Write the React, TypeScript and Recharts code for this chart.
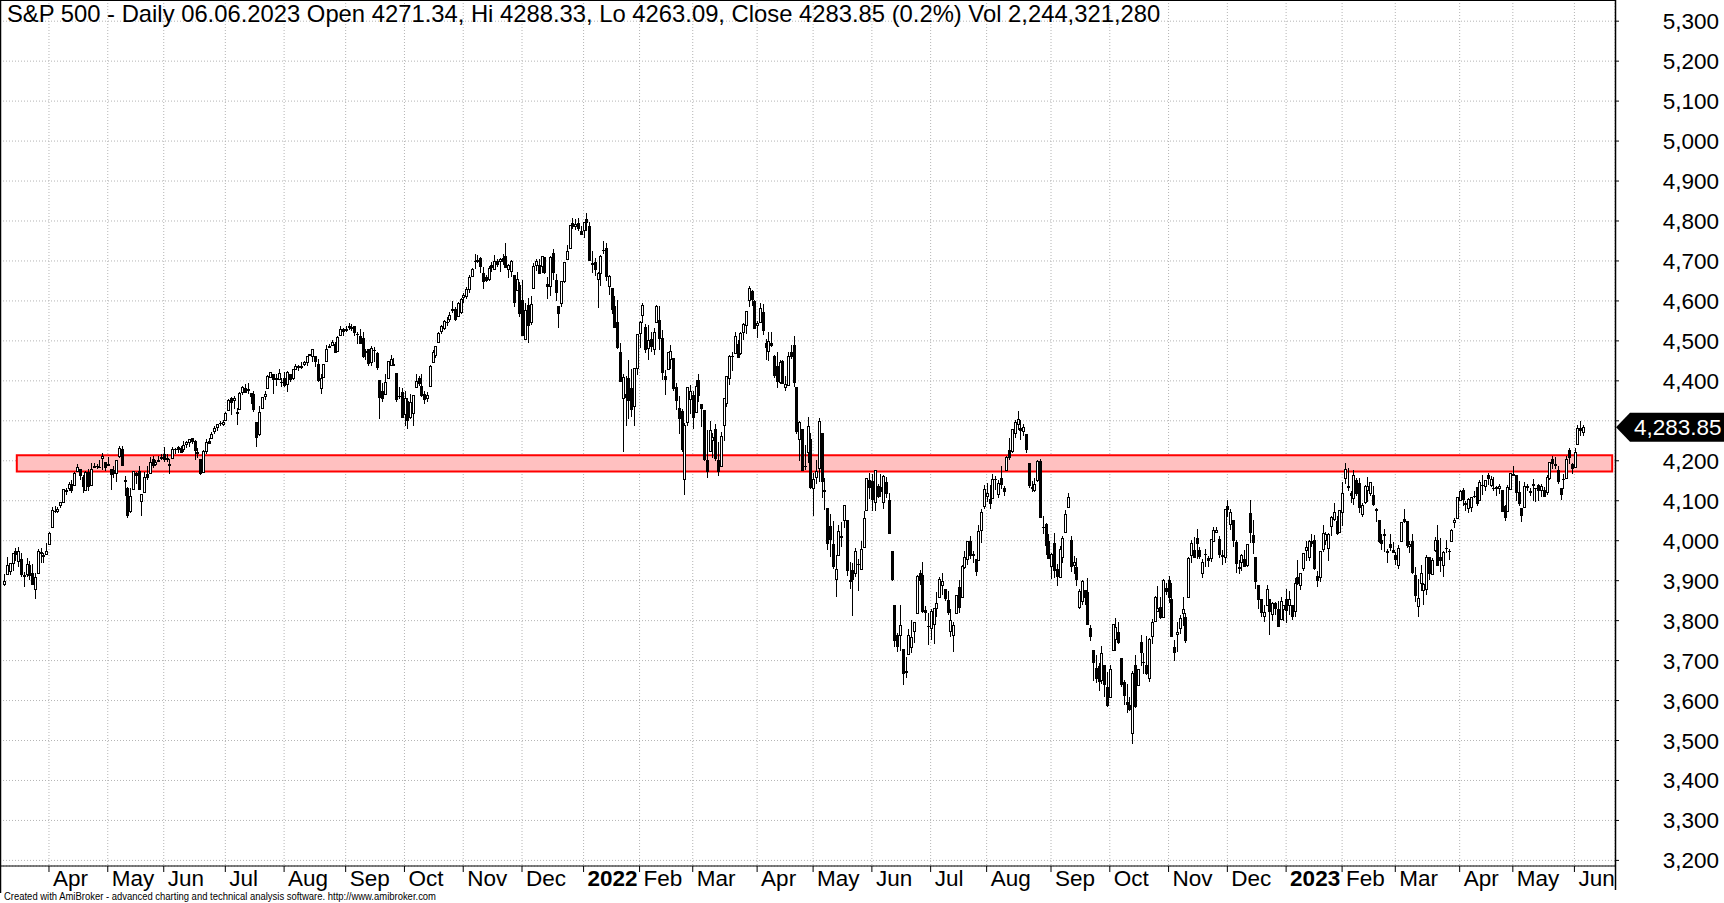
import { ComposedChart, Bar, XAxis, YAxis, CartesianGrid, ReferenceArea, ReferenceLine } from 'recharts';

// S&P 500 daily candles, 10 Mar 2021 .. 06 Jun 2023 (one line per month)
const monthLabels = ['Mar', 'Apr', 'May', 'Jun', 'Jul', 'Aug', 'Sep', 'Oct', 'Nov', 'Dec', '2022', 'Feb', 'Mar', 'Apr', 'May', 'Jun', 'Jul', 'Aug', 'Sep', 'Oct', 'Nov', 'Dec', '2023', 'Feb', 'Mar', 'Apr', 'May', 'Jun'];
const monthDays = [16, 21, 20, 22, 21, 22, 21, 21, 21, 22, 20, 19, 23, 20, 21, 21, 20, 23, 21, 21, 21, 21, 20, 19, 23, 19, 22, 4];

const opens = [
  3891, 3916, 3925, 3943, 3974, 3949, 3953, 3913, 3917, 3938, 3920, 3880, 3918, 3970, 3963, 3967,
  3992, 4034, 4075, 4074, 4089, 4096, 4124, 4131, 4141, 4140, 4175, 4179, 4160, 4128, 4171, 4139, 4185, 4188, 4185, 4206, 4198,
  4192, 4179, 4178, 4169, 4211, 4229, 4150, 4131, 4075, 4130, 4169, 4175, 4099, 4122, 4168, 4170, 4205, 4191, 4201, 4210,
  4216, 4207, 4191, 4207, 4229, 4234, 4233, 4229, 4242, 4248, 4256, 4249, 4220, 4204, 4173, 4224, 4249, 4256, 4274, 4285, 4294, 4291,
  4301, 4326, 4357, 4351, 4321, 4329, 4373, 4381, 4380, 4370, 4368, 4297, 4266, 4331, 4362, 4381, 4410, 4417, 4407, 4404, 4396,
  4407, 4392, 4416, 4406, 4429, 4438, 4436, 4443, 4447, 4464, 4462, 4462, 4441, 4383, 4410, 4450, 4485, 4490, 4493, 4475, 4514, 4529,
  4529, 4535, 4532, 4536, 4518, 4513, 4506, 4475, 4479, 4447, 4477, 4470, 4402, 4375, 4367, 4406, 4439, 4443, 4419, 4362, 4371,
  4318, 4349, 4310, 4320, 4384, 4407, 4386, 4368, 4358, 4387, 4448, 4464, 4498, 4524, 4532, 4547, 4554, 4579, 4580, 4562, 4573,
  4610, 4613, 4631, 4663, 4700, 4701, 4707, 4670, 4659, 4656, 4689, 4680, 4701, 4700, 4708, 4712, 4679, 4675, 4665, 4628, 4640,
  4602, 4504, 4589, 4548, 4632, 4690, 4691, 4687, 4711, 4642, 4637, 4719, 4652, 4588, 4595, 4650, 4704, 4733, 4795, 4788, 4795, 4776,
  4778, 4804, 4788, 4693, 4698, 4655, 4669, 4728, 4733, 4637, 4632, 4588, 4548, 4471, 4357, 4366, 4408, 4381, 4337, 4432,
  4519, 4566, 4535, 4482, 4505, 4480, 4547, 4553, 4506, 4412, 4430, 4455, 4456, 4385, 4332, 4325, 4155, 4298, 4354,
  4364, 4323, 4401, 4343, 4327, 4202, 4224, 4253, 4280, 4202, 4188, 4289, 4345, 4407, 4462, 4469, 4493, 4469, 4523, 4541, 4603, 4625, 4600,
  4541, 4548, 4572, 4494, 4475, 4494, 4462, 4437, 4396, 4449, 4385, 4390, 4473, 4490, 4385, 4255, 4279, 4187, 4223, 4254,
  4131, 4159, 4182, 4270, 4128, 4082, 4036, 3991, 3903, 3963, 4013, 4052, 4051, 3899, 3927, 3920, 3942, 3929, 3984, 4078, 4151,
  4150, 4096, 4137, 4134, 4097, 4148, 4102, 3974, 3838, 3764, 3765, 3728, 3675, 3716, 3733, 3775, 3820, 3920, 3913, 3826, 3786,
  3782, 3792, 3831, 3859, 3888, 3880, 3851, 3773, 3764, 3818, 3883, 3860, 3935, 3955, 3998, 3965, 3954, 3951, 4027, 4088,
  4112, 4104, 4107, 4154, 4116, 4156, 4133, 4176, 4227, 4225, 4270, 4291, 4281, 4274, 4267, 4195, 4134, 4127, 4153, 4199, 4035, 4041, 4000,
  3937, 3995, 3930, 3909, 3960, 4022, 4084, 4001, 3940, 3933, 3833, 3849, 3876, 3871, 3782, 3727, 3682, 3687, 3652, 3688, 3633,
  3610, 3726, 3753, 3771, 3706, 3647, 3596, 3590, 3520, 3690, 3638, 3746, 3696, 3689, 3657, 3762, 3799, 3825, 3834, 3809, 3881,
  3901, 3853, 3733, 3767, 3781, 3818, 3810, 3859, 3963, 3977, 4007, 3976, 3920, 3967, 3957, 3956, 4000, 4023, 4005, 3965, 3958,
  4087, 4041, 4052, 3996, 3934, 3947, 3955, 3939, 4069, 4015, 3958, 3890, 3853, 3811, 3840, 3853, 3816, 3843, 3829, 3805, 3830,
  3853, 3840, 3840, 3823, 3910, 3888, 3932, 3977, 3960, 3999, 4002, 3912, 3910, 3979, 4001, 3982, 4036, 4054, 4050, 4021,
  4071, 4158, 4136, 4119, 4106, 4153, 4144, 4068, 4097, 4127, 4120, 4114, 4077, 4052, 4001, 4018, 3973, 3992, 3977,
  3964, 3938, 3999, 4055, 4049, 3987, 3998, 3913, 3836, 3894, 3876, 3878, 3958, 3917, 3976, 4003, 3960, 3939, 3982, 3975, 3999, 4046, 4057,
  4102, 4128, 4094, 4082, 4085, 4111, 4134, 4101, 4140, 4137, 4165, 4140, 4131, 4132, 4133, 4127, 4087, 4075, 4129,
  4166, 4164, 4123, 4083, 4084, 4137, 4124, 4143, 4132, 4139, 4127, 4127, 4122, 4157, 4204, 4191, 4176, 4132, 4155, 4156, 4226, 4191,
  4184, 4242, 4282, 4271.34,
];

const highs = [
  3917, 3960, 3944, 3970, 3982, 3984, 3969, 3922, 3956, 3949, 3942, 3919, 3979, 3981, 3969, 3994,
  4021, 4084, 4087, 4084, 4098, 4129, 4131, 4148, 4152, 4173, 4192, 4180, 4164, 4175, 4180, 4194, 4195, 4193, 4201, 4219, 4198,
  4210, 4179, 4187, 4202, 4238, 4236, 4163, 4135, 4131, 4175, 4171, 4187, 4117, 4172, 4188, 4209, 4213, 4202, 4213, 4218,
  4234, 4217, 4204, 4234, 4232, 4237, 4237, 4249, 4249, 4255, 4258, 4252, 4233, 4204, 4226, 4255, 4256, 4272, 4286, 4292, 4300, 4302,
  4321, 4355, 4359, 4361, 4331, 4372, 4386, 4393, 4394, 4370, 4375, 4297, 4336, 4360, 4374, 4415, 4423, 4417, 4416, 4430, 4408,
  4422, 4424, 4417, 4430, 4441, 4439, 4446, 4449, 4461, 4468, 4480, 4462, 4454, 4418, 4442, 4489, 4493, 4501, 4496, 4513, 4538, 4532,
  4537, 4545, 4542, 4536, 4521, 4530, 4521, 4480, 4479, 4486, 4485, 4471, 4402, 4394, 4417, 4450, 4464, 4458, 4419, 4385, 4382,
  4375, 4356, 4366, 4365, 4416, 4412, 4416, 4375, 4373, 4439, 4476, 4487, 4521, 4540, 4552, 4560, 4572, 4599, 4585, 4597, 4608,
  4621, 4636, 4664, 4683, 4718, 4714, 4709, 4685, 4664, 4688, 4698, 4714, 4706, 4708, 4718, 4744, 4692, 4702, 4665, 4672, 4647,
  4652, 4595, 4608, 4612, 4694, 4706, 4705, 4713, 4711, 4660, 4712, 4731, 4667, 4588, 4651, 4698, 4741, 4791, 4808, 4805, 4808, 4787,
  4797, 4819, 4798, 4726, 4708, 4673, 4715, 4749, 4745, 4666, 4632, 4612, 4603, 4495, 4418, 4411, 4453, 4429, 4433, 4516,
  4550, 4595, 4542, 4539, 4522, 4531, 4590, 4588, 4527, 4427, 4473, 4490, 4456, 4395, 4363, 4329, 4295, 4385, 4389,
  4375, 4401, 4417, 4343, 4327, 4277, 4299, 4269, 4292, 4247, 4272, 4357, 4413, 4465, 4471, 4523, 4501, 4521, 4546, 4576, 4637, 4627, 4603,
  4549, 4594, 4593, 4504, 4521, 4521, 4464, 4472, 4453, 4452, 4411, 4471, 4489, 4513, 4385, 4300, 4279, 4240, 4309, 4270,
  4170, 4201, 4308, 4270, 4158, 4082, 4068, 4050, 3964, 4039, 4047, 4089, 4051, 3946, 3944, 3981, 3955, 3999, 4075, 4158, 4169,
  4167, 4177, 4143, 4168, 4164, 4160, 4120, 3974, 3838, 3768, 3838, 3728, 3708, 3779, 3802, 3796, 3913, 3927, 3946, 3836, 3818,
  3829, 3832, 3871, 3910, 3918, 3880, 3874, 3829, 3797, 3863, 3902, 3940, 3975, 3999, 4012, 3975, 3954, 4040, 4079, 4140,
  4144, 4140, 4167, 4162, 4152, 4186, 4138, 4211, 4257, 4280, 4302, 4325, 4302, 4293, 4267, 4195, 4149, 4156, 4201, 4204, 4063, 4044, 4016,
  3970, 4019, 3942, 3987, 4011, 4076, 4119, 4012, 3962, 3956, 3879, 3901, 3876, 3907, 3790, 3727, 3715, 3694, 3736, 3688, 3672,
  3688, 3791, 3807, 3797, 3706, 3652, 3641, 3608, 3673, 3713, 3679, 3763, 3719, 3762, 3757, 3805, 3862, 3887, 3860, 3905, 3893,
  3912, 3894, 3751, 3796, 3814, 3859, 3818, 3958, 4001, 4009, 4029, 3983, 3954, 3979, 3962, 4004, 4034, 4035, 4013, 3977, 4080,
  4101, 4080, 4052, 4002, 3951, 3966, 3977, 3991, 4101, 4053, 3958, 3890, 3854, 3839, 3889, 3853, 3846, 3846, 3849, 3858, 3840,
  3879, 3874, 3840, 3907, 3951, 3920, 3970, 3998, 4003, 4016, 4015, 3923, 3973, 4040, 4023, 4020, 4062, 4095, 4063, 4077,
  4148, 4195, 4183, 4124, 4176, 4156, 4157, 4094, 4139, 4159, 4148, 4137, 4082, 4052, 4017, 4029, 3978, 4018, 3997,
  3972, 3990, 4048, 4079, 4050, 4000, 4018, 3934, 3905, 3938, 3894, 3965, 3959, 3956, 4010, 4039, 4007, 3973, 4003, 3979, 4030, 4058, 4110,
  4127, 4133, 4100, 4108, 4109, 4124, 4134, 4151, 4164, 4152, 4170, 4162, 4160, 4138, 4141, 4127, 4089, 4139, 4170,
  4186, 4165, 4149, 4083, 4147, 4143, 4131, 4155, 4133, 4143, 4142, 4135, 4165, 4198, 4213, 4210, 4186, 4133, 4166, 4212, 4231, 4194,
  4232, 4290, 4300, 4288.33,
];

const lows = [
  3886, 3916, 3915, 3924, 3950, 3935, 3910, 3885, 3910, 3901, 3889, 3853, 3917, 3944, 3943, 3966,
  3992, 4034, 4069, 4069, 4082, 4095, 4114, 4124, 4120, 4140, 4171, 4151, 4119, 4126, 4124, 4139, 4182, 4180, 4181, 4177, 4175,
  4189, 4128, 4158, 4148, 4207, 4188, 4111, 4057, 4070, 4130, 4143, 4128, 4062, 4122, 4152, 4170, 4182, 4188, 4197, 4203,
  4197, 4198, 4167, 4207, 4217, 4219, 4219, 4221, 4233, 4235, 4241, 4203, 4207, 4165, 4173, 4217, 4241, 4256, 4266, 4275, 4286, 4287,
  4301, 4326, 4315, 4330, 4289, 4329, 4365, 4369, 4366, 4343, 4323, 4234, 4263, 4329, 4351, 4381, 4406, 4367, 4387, 4403, 4385,
  4385, 4373, 4398, 4402, 4427, 4424, 4430, 4436, 4436, 4461, 4448, 4435, 4397, 4368, 4407, 4450, 4483, 4486, 4469, 4474, 4514, 4511,
  4522, 4527, 4525, 4513, 4493, 4493, 4458, 4453, 4436, 4438, 4447, 4427, 4305, 4347, 4367, 4406, 4437, 4437, 4346, 4355, 4307,
  4288, 4279, 4305, 4288, 4381, 4386, 4360, 4343, 4348, 4387, 4448, 4458, 4496, 4517, 4526, 4538, 4547, 4569, 4551, 4562, 4567,
  4595, 4604, 4620, 4660, 4681, 4694, 4670, 4630, 4648, 4651, 4672, 4679, 4686, 4672, 4690, 4682, 4658, 4660, 4585, 4626, 4560,
  4511, 4504, 4495, 4540, 4632, 4675, 4668, 4671, 4667, 4606, 4612, 4652, 4600, 4531, 4584, 4645, 4703, 4733, 4781, 4778, 4775, 4765,
  4758, 4775, 4700, 4671, 4663, 4582, 4638, 4718, 4651, 4614, 4568, 4531, 4480, 4396, 4223, 4287, 4305, 4309, 4287, 4415,
  4483, 4544, 4470, 4451, 4471, 4465, 4547, 4478, 4402, 4365, 4429, 4430, 4374, 4327, 4268, 4222, 4115, 4287, 4318,
  4279, 4323, 4346, 4285, 4199, 4157, 4224, 4206, 4200, 4162, 4187, 4249, 4335, 4390, 4424, 4469, 4456, 4465, 4501, 4517, 4585, 4588, 4530,
  4507, 4545, 4514, 4452, 4450, 4484, 4408, 4381, 4393, 4392, 4374, 4390, 4455, 4385, 4268, 4200, 4175, 4177, 4194, 4129,
  4063, 4141, 4148, 4107, 4078, 3976, 3958, 3928, 3859, 3963, 3984, 4033, 3912, 3878, 3811, 3910, 3875, 3926, 3984, 4078, 4104,
  4074, 4074, 4107, 4109, 4080, 4107, 4017, 3900, 3735, 3722, 3723, 3639, 3656, 3716, 3718, 3743, 3820, 3889, 3820, 3799, 3738,
  3752, 3742, 3810, 3859, 3865, 3850, 3813, 3759, 3722, 3818, 3818, 3860, 3930, 3938, 3955, 3944, 3911, 3951, 3993, 4079,
  4097, 4080, 4107, 4128, 4108, 4129, 4112, 4175, 4201, 4219, 4256, 4277, 4253, 4263, 4219, 4131, 4123, 4121, 4147, 4057, 4018, 3965, 3954,
  3903, 3907, 3886, 3906, 3945, 4022, 4083, 3922, 3916, 3886, 3828, 3839, 3838, 3789, 3749, 3648, 3645, 3623, 3641, 3610, 3584,
  3610, 3726, 3723, 3742, 3633, 3588, 3569, 3574, 3491, 3582, 3638, 3686, 3667, 3664, 3647, 3742, 3799, 3825, 3803, 3809, 3863,
  3843, 3759, 3699, 3722, 3767, 3786, 3745, 3859, 3945, 3956, 3954, 3955, 3906, 3935, 3933, 3947, 3998, 4020, 3956, 3938, 3944,
  4060, 4026, 3984, 3919, 3917, 3923, 3934, 3935, 3994, 3966, 3880, 3828, 3809, 3796, 3840, 3765, 3798, 3813, 3783, 3805, 3800,
  3795, 3815, 3802, 3809, 3890, 3877, 3925, 3949, 3948, 3985, 3926, 3885, 3897, 3971, 3990, 3950, 4013, 4049, 4015, 4021,
  4038, 4141, 4124, 4094, 4089, 4111, 4069, 4060, 4092, 4096, 4113, 4088, 4047, 3995, 3976, 3972, 3943, 3974, 3968,
  3939, 3928, 3998, 4044, 3981, 3970, 3917, 3847, 3809, 3874, 3839, 3865, 3902, 3917, 3971, 3937, 3922, 3909, 3970, 3951, 3999, 4032, 4057,
  4099, 4087, 4074, 4069, 4073, 4108, 4086, 4100, 4114, 4124, 4140, 4135, 4124, 4113, 4118, 4072, 4049, 4072, 4128,
  4165, 4099, 4088, 4048, 4084, 4124, 4111, 4099, 4098, 4099, 4110, 4110, 4114, 4153, 4180, 4180, 4143, 4103, 4129, 4155, 4193, 4166,
  4181, 4241, 4262, 4263.09,
];

const closes = [
  3899, 3939, 3943, 3969, 3963, 3974, 3915, 3913, 3941, 3911, 3889, 3910, 3975, 3971, 3959, 3973,
  4020, 4078, 4074, 4080, 4097, 4129, 4128, 4142, 4125, 4170, 4185, 4163, 4135, 4173, 4135, 4180, 4188, 4187, 4183, 4211, 4181,
  4193, 4165, 4168, 4202, 4233, 4188, 4152, 4063, 4113, 4174, 4163, 4128, 4116, 4159, 4156, 4197, 4188, 4196, 4201, 4204,
  4202, 4208, 4193, 4230, 4227, 4227, 4220, 4239, 4247, 4255, 4247, 4224, 4222, 4166, 4225, 4246, 4242, 4266, 4281, 4291, 4292, 4298,
  4320, 4352, 4344, 4358, 4321, 4370, 4385, 4369, 4374, 4360, 4327, 4258, 4323, 4359, 4367, 4412, 4422, 4401, 4401, 4419, 4395,
  4387, 4423, 4403, 4429, 4437, 4432, 4437, 4448, 4461, 4468, 4480, 4448, 4400, 4406, 4442, 4480, 4486, 4496, 4470, 4509, 4529, 4523,
  4524, 4537, 4535, 4520, 4514, 4493, 4459, 4469, 4443, 4481, 4474, 4433, 4358, 4354, 4396, 4449, 4455, 4443, 4353, 4359, 4308,
  4357, 4300, 4346, 4364, 4400, 4391, 4361, 4351, 4364, 4438, 4471, 4486, 4520, 4536, 4550, 4545, 4566, 4575, 4552, 4596, 4605,
  4614, 4631, 4661, 4680, 4698, 4702, 4685, 4647, 4649, 4683, 4683, 4701, 4689, 4705, 4698, 4683, 4691, 4701, 4595, 4655, 4567,
  4513, 4577, 4538, 4592, 4687, 4701, 4667, 4712, 4669, 4634, 4710, 4669, 4621, 4568, 4649, 4697, 4726, 4791, 4786, 4793, 4779, 4766,
  4797, 4794, 4701, 4696, 4677, 4670, 4713, 4726, 4659, 4663, 4577, 4533, 4483, 4398, 4410, 4356, 4350, 4327, 4432, 4516,
  4547, 4589, 4477, 4501, 4484, 4522, 4587, 4504, 4419, 4402, 4471, 4475, 4380, 4349, 4305, 4226, 4289, 4385, 4374,
  4306, 4387, 4363, 4329, 4201, 4171, 4278, 4260, 4204, 4173, 4262, 4358, 4412, 4463, 4461, 4512, 4456, 4520, 4543, 4576, 4632, 4602, 4530,
  4546, 4583, 4525, 4481, 4500, 4488, 4413, 4397, 4447, 4393, 4392, 4462, 4459, 4394, 4272, 4296, 4175, 4184, 4288, 4132,
  4155, 4175, 4300, 4147, 4123, 3991, 4001, 3935, 3930, 4024, 4008, 4089, 3924, 3901, 3901, 3974, 3941, 3979, 4058, 4158, 4132,
  4101, 4177, 4109, 4121, 4161, 4116, 4018, 3901, 3750, 3735, 3790, 3667, 3675, 3765, 3760, 3796, 3912, 3900, 3822, 3819, 3785,
  3825, 3831, 3845, 3903, 3899, 3854, 3819, 3802, 3790, 3863, 3831, 3937, 3960, 3999, 3962, 3967, 3921, 4024, 4072, 4130,
  4119, 4091, 4155, 4152, 4145, 4140, 4122, 4210, 4207, 4280, 4297, 4305, 4274, 4284, 4228, 4138, 4129, 4141, 4199, 4058, 4031, 3986, 3955,
  3967, 3924, 3908, 3980, 4006, 4067, 4110, 3933, 3946, 3901, 3873, 3900, 3856, 3790, 3758, 3693, 3655, 3647, 3719, 3640, 3586,
  3678, 3791, 3783, 3745, 3640, 3612, 3589, 3577, 3670, 3583, 3678, 3720, 3695, 3666, 3753, 3797, 3859, 3831, 3807, 3901, 3872,
  3856, 3760, 3720, 3771, 3807, 3828, 3749, 3956, 3993, 3957, 3992, 3959, 3947, 3965, 3950, 4004, 4027, 4026, 3964, 3958, 4080,
  4077, 4072, 3999, 3941, 3934, 3964, 3934, 3991, 4020, 3995, 3896, 3852, 3818, 3822, 3878, 3822, 3845, 3829, 3783, 3849, 3840,
  3824, 3853, 3808, 3895, 3892, 3919, 3970, 3983, 3999, 3991, 3929, 3899, 3973, 4020, 4017, 4016, 4060, 4071, 4018, 4077,
  4119, 4180, 4136, 4111, 4164, 4118, 4082, 4090, 4137, 4136, 4148, 4090, 4079, 3997, 3991, 4012, 3970, 3982, 3970,
  3951, 3981, 4046, 4048, 3986, 3992, 3918, 3862, 3856, 3919, 3892, 3960, 3917, 3952, 4003, 3937, 3949, 3971, 3978, 3971, 4028, 4051, 4109,
  4125, 4101, 4090, 4105, 4109, 4109, 4092, 4146, 4138, 4151, 4155, 4155, 4130, 4134, 4137, 4072, 4056, 4135, 4169,
  4168, 4120, 4091, 4061, 4136, 4138, 4119, 4138, 4131, 4124, 4136, 4110, 4159, 4198, 4192, 4193, 4146, 4115, 4151, 4205, 4206, 4180,
  4221, 4282, 4274, 4283.85,
];

const yTicks = [3200, 3300, 3400, 3500, 3600, 3700, 3800, 3900, 4000, 4100, 4200, 4300, 4400, 4500, 4600, 4700, 4800, 4900, 5000, 5100, 5200, 5300];
const supportZone = [4173, 4214];
const lastDate = '06.06.2023';
const lastChange = '(0.2%)';
const lastVolume = '2,244,321,280';

const FONT = "'Liberation Sans', Arial, sans-serif";
const W = 1724;
const H = 903;
const PLOT_R = 1615;
const PLOT_B = 866;
const LEAD = 1;
const TRAIL = 11;

// table: one slot per category, blank slots for the left/right gaps
const table: any[] = [];
for (let k = 0; k < LEAD; k++) table.push({ t: table.length });
closes.forEach((c, i) => {
  table.push({ t: table.length, o: opens[i], h: highs[i], l: lows[i], c, range: [lows[i], highs[i]] });
});
for (let k = 0; k < TRAIL; k++) table.push({ t: table.length });

const tickLabels: Record<number, string> = {};
let startIdx = 0;
monthDays.forEach((n, m) => {
  if (m > 0) tickLabels[startIdx + LEAD] = monthLabels[m];
  startIdx += n;
});
const monthTicks = Object.keys(tickLabels).map(Number);

const last = closes.length - 1;
const lastClose = closes[last];
const fmt2 = (v: number) => v.toFixed(2);
const title = `S&P 500 - Daily ${lastDate} Open ${fmt2(opens[last])}, Hi ${fmt2(highs[last])}, Lo ${fmt2(lows[last])}, Close ${fmt2(lastClose)} ${lastChange} Vol ${lastVolume}`;

const Candle = (props: any) => {
  const { x, y, width, height, payload } = props;
  if (!payload || payload.o == null) return null;
  const { o, h, l, c } = payload;
  const top = Math.min(y, y + height);
  const hh = Math.abs(height);
  const px = Math.round(x + width / 2);
  const span = h - l || 1;
  const yOf = (v: number) => top + ((h - v) / span) * hh;
  const bTop = Math.round(yOf(Math.max(o, c)));
  const bBot = Math.round(yOf(Math.min(o, c)));
  const up = c >= o;
  return (
    <g shapeRendering="crispEdges">
      <line x1={px + 0.5} x2={px + 0.5} y1={Math.round(top)} y2={Math.round(top + hh)} stroke="#000" strokeWidth={1} />
      {up ? (
        <rect x={px - 0.5} y={bTop + 0.5} width={2} height={Math.max(bBot - bTop, 1)} fill="#fff" stroke="#000" strokeWidth={1} />
      ) : (
        <rect x={px - 1} y={bTop} width={3} height={Math.max(bBot - bTop, 1)} fill="#000" />
      )}
    </g>
  );
};

const PriceTick = ({ y, payload }: any) => {
  if (Math.abs(payload.value - lastClose) < 30) return null;
  return (
    <text x={1719} y={y + 8} textAnchor="end" fontSize={22.5} fontFamily={FONT} fill="#000">
      {payload.value.toLocaleString('en-US')}
    </text>
  );
};

const MonthTick = ({ x, payload }: any) => {
  const label = tickLabels[payload.value] ?? '';
  const bold = /^\d{4}$/.test(label);
  return (
    <g>
      <line x1={x} x2={x} y1={PLOT_B} y2={PLOT_B + 6} stroke="#000" strokeWidth={1} />
      <text x={x + 4} y={886} fontSize={22.5} fontWeight={bold ? 700 : 400} fontFamily={FONT} fill="#000">
        {label}
      </text>
    </g>
  );
};

// last-price marker on the right axis; y comes from the reference line
const PriceTag = (props: any) => {
  const y = props.y1 ?? props.y;
  const tip = PLOT_R + 1;
  return (
    <g>
      <polygon points={`${tip},${y} ${tip + 14},${y - 14.5} ${W},${y - 14.5} ${W},${y + 14.5} ${tip + 14},${y + 14.5}`} fill="#000" />
      <text x={tip + 18} y={y + 8} fontSize={22.5} fontFamily={FONT} fill="#fff">
        {lastClose.toLocaleString('en-US', { minimumFractionDigits: 2 })}
      </text>
    </g>
  );
};

export default function App() {
  return (
    <div style={{ position: 'absolute', left: 0, top: 0, width: W, height: H, background: '#fff', overflow: 'hidden' }}>
      <ComposedChart width={W} height={H} data={table} margin={{ top: 0, right: 0, bottom: 0, left: 0 }} barCategoryGap={0} barGap={0}>
        <CartesianGrid stroke="#b4b4b4" strokeDasharray="1 2" />
        <XAxis
          dataKey="t"
          type="category"
          height={H - PLOT_B}
          ticks={monthTicks}
          interval={0}
          tick={<MonthTick />}
          tickLine={false}
          axisLine={{ stroke: '#000', strokeWidth: 1 }}
        />
        <YAxis
          orientation="right"
          width={W - PLOT_R}
          type="number"
          domain={[3186, 5353]}
          ticks={yTicks}
          interval={0}
          allowDataOverflow
          tick={<PriceTick />}
          tickSize={4}
          tickLine={{ stroke: '#000' }}
          axisLine={false}
        />
        <ReferenceArea
          x1={6 + LEAD - 1}
          x2={table.length - 2}
          y1={supportZone[0]}
          y2={supportZone[1]}
          fill="#ffc0c0"
          fillOpacity={1}
          stroke="#ff0000"
          strokeWidth={2}
        />
        <Bar dataKey="range" shape={<Candle />} isAnimationActive={false} />
        <ReferenceLine y={lastClose} stroke="none" shape={(p: any) => <PriceTag {...p} />} />
      </ComposedChart>
      <svg width={W} height={H} style={{ position: 'absolute', left: 0, top: 0, pointerEvents: 'none' }}>
        <line x1={0.5} x2={0.5} y1={0} y2={893} stroke="#000" strokeWidth={1.5} />
        <line x1={0} x2={PLOT_R} y1={0.5} y2={0.5} stroke="#000" strokeWidth={1} />
        <line x1={PLOT_R + 0.5} x2={PLOT_R + 0.5} y1={0} y2={890} stroke="#000" strokeWidth={1.5} />
        <text x={7} y={22} fontSize={23.8} fontFamily={FONT} fill="#000">
          {title}
        </text>
        <text x={4} y={900} fontSize={10} fontFamily={FONT} fill="#000" textLength={432} lengthAdjust="spacingAndGlyphs">
          Created with AmiBroker - advanced charting and technical analysis software. http://www.amibroker.com
        </text>
      </svg>
    </div>
  );
}
